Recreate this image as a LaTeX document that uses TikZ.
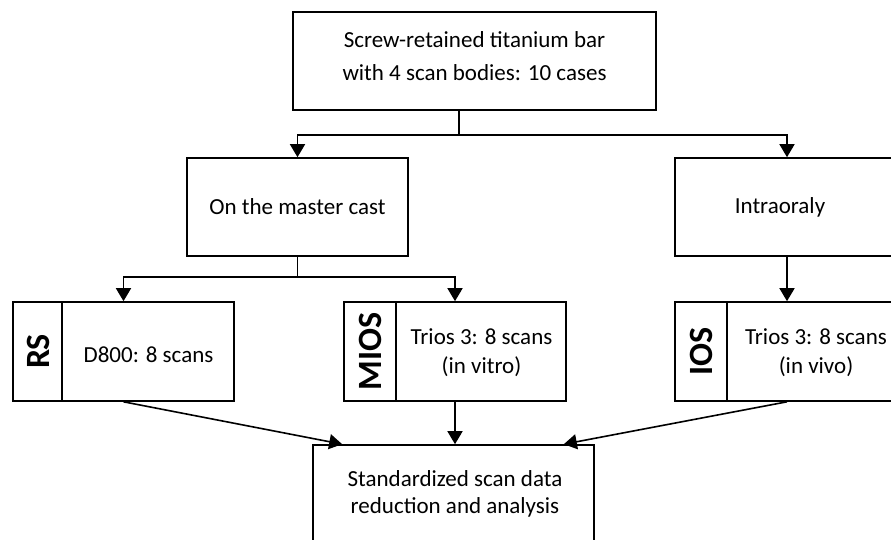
\documentclass[tikz,border=0pt]{standalone}
\usepackage{fontspec}
\setmainfont{Carlito}
\usetikzlibrary{arrows.meta,calc}
\begin{document}
\begin{tikzpicture}[x=1pt,y=-1pt,
  box/.style={draw, line width=1.6pt, inner sep=0pt, fill=white},
  txt/.style={font=\fontsize{23}{#1}\selectfont, align=center, inner sep=0pt},
  txt/.default=29,
  tag/.style={font=\fontsize{34}{34}\selectfont\bfseries, rotate=90, inner sep=0pt},
  wire/.style={line width=1.6pt},
  arr/.style={line width=1.6pt, -{Triangle[length=13pt,width=15pt]}}]
\useasboundingbox (0,0) rectangle (891,540);
\fill[white] (0,0) rectangle (891,540);
\clip (0,0) rectangle (891,540);

% top level
\node[box, minimum width=363pt, minimum height=98pt] (top) at (474.5,61) {};
\node[txt=33] (toptxt) at (474.5,56.5) {Screw-retained titanium bar\\with 4 scan bodies: 10 cases};

% second level
\node[box, minimum width=221pt, minimum height=98pt] (master) at (297.5,207) {};
\node[txt] (mastertxt) at (297.5,207) {On the master cast};
\node[box, minimum width=224pt, minimum height=98pt] (intra) at (787,207) {};
\node[txt] (intratxt) at (780,207) {Intraoraly};

% scan groups
\node[box, minimum width=221pt, minimum height=99pt] (rs) at (123.5,351.5) {};
\draw[wire] ($(rs.north west)+(50,0)$) -- ($(rs.south west)+(50,0)$);
\node[tag] (rstag) at (38,351.5) {RS};
\node[txt] (rstxt) at (148.5,355) {D800: 8 scans};

\node[box, minimum width=222pt, minimum height=99pt] (mios) at (455,351.5) {};
\draw[wire] ($(mios.north west)+(53,0)$) -- ($(mios.south west)+(53,0)$);
\node[tag] (miostag) at (370.5,351.5) {MIOS};
\node[txt] (miostxt) at (481.5,352.5) {Trios 3: 8 scans\\(in vitro)};

\node[box, minimum width=224pt, minimum height=99pt] (ios) at (787,351.5) {};
\draw[wire] ($(ios.north west)+(53,0)$) -- ($(ios.south west)+(53,0)$);
\node[tag] (iostag) at (701.5,351.5) {IOS};
\node[txt] (iostxt) at (816,352.5) {Trios 3: 8 scans\\(in vivo)};

% analysis
\node[box, minimum width=281pt, minimum height=135pt] (bottom) at (453.5,512.5) {};
\node[txt=27] (bottomtxt) at (455,493.5) {Standardized scan data\\reduction and analysis};

% connectors
\coordinate (j1) at (459,135);
\draw[wire] (top.south -| j1) -- (j1);
\draw[arr] (j1) -| (master.north);
\draw[arr] (j1) -| (intra.north);

\coordinate (j2) at ($(master.south)+(0,20)$);
\draw[wire] (master.south) -- (j2);
\draw[arr] (j2) -| (rs.north);
\draw[arr] (j2) -| (mios.north);
\draw[arr] (intra.south) -- (ios.north);

\draw[arr] (rs.south) -- ($(bottom.north west)+(30,0)$);
\draw[arr] (mios.south) -- (mios.south |- bottom.north);
\draw[arr] (ios.south) -- ($(bottom.north east)+(-31,0)$);
\end{tikzpicture}
\end{document}
